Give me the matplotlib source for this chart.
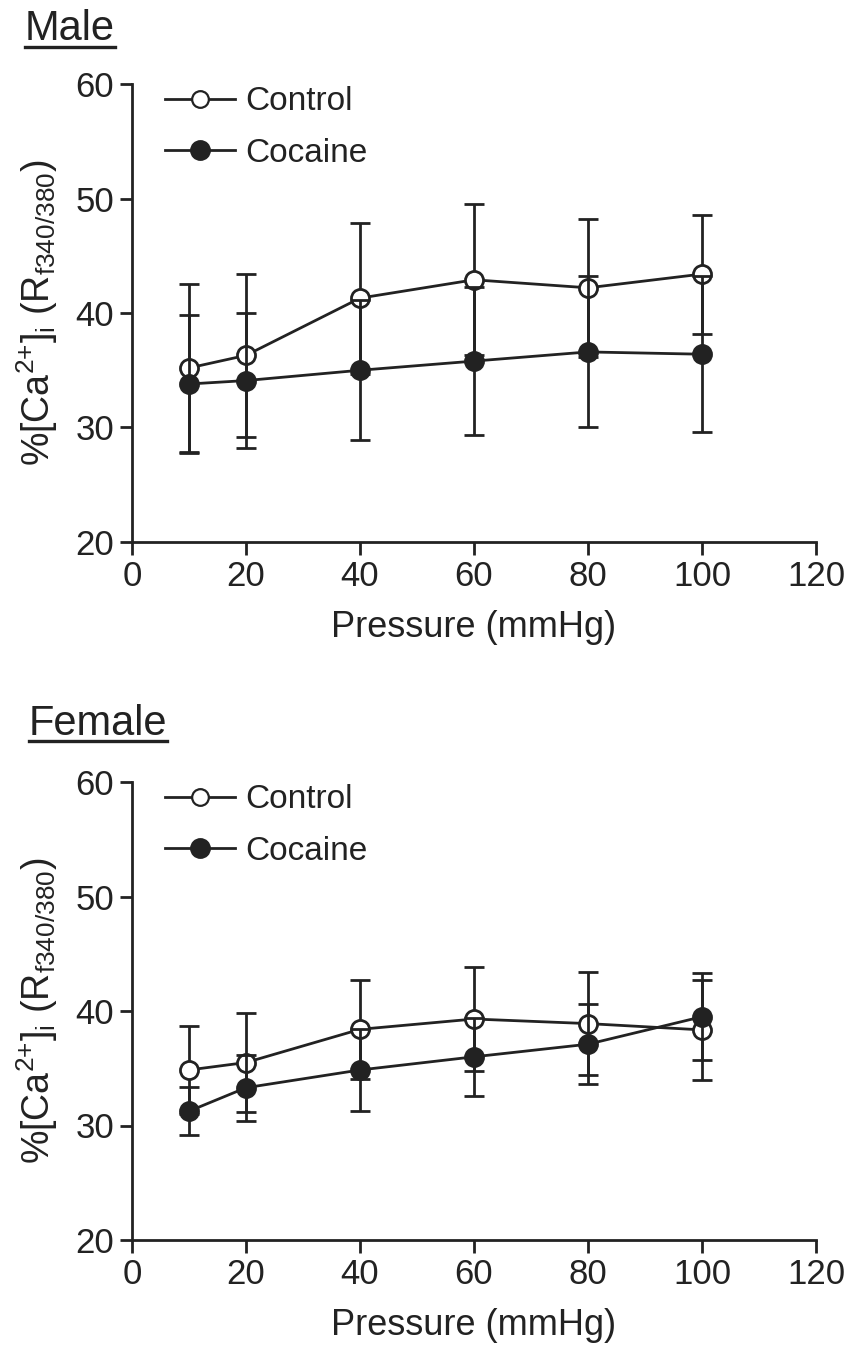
import matplotlib
matplotlib.use("Agg")
import matplotlib.pyplot as plt
from matplotlib.lines import Line2D

plt.rcParams['font.family'] = ['Liberation Sans', 'DejaVu Sans']
plt.rcParams['mathtext.fontset'] = 'custom'
plt.rcParams['mathtext.rm'] = 'Liberation Sans'
plt.rcParams['mathtext.it'] = 'Liberation Sans'
plt.rcParams['mathtext.default'] = 'regular'

pressure = [10, 20, 40, 60, 80, 100]

male_control = [35.2, 36.3, 41.3, 42.9, 42.2, 43.4]
male_control_sem = [7.3, 7.1, 6.6, 6.6, 6.0, 5.2]
male_cocaine = [33.8, 34.1, 35.0, 35.8, 36.6, 36.4]
male_cocaine_sem = [6.0, 5.9, 6.1, 6.45, 6.6, 6.8]

female_control = [34.85, 35.5, 38.4, 39.3, 38.9, 38.35]
female_control_sem = [3.85, 4.35, 4.3, 4.55, 4.5, 4.4]
female_cocaine = [31.25, 33.3, 34.85, 36.0, 37.1, 39.5]
female_cocaine_sem = [2.1, 2.9, 3.55, 3.4, 3.5, 3.8]

panels = [
    ("Male", male_control, male_control_sem, male_cocaine, male_cocaine_sem),
    ("Female", female_control, female_control_sem, female_cocaine, female_cocaine_sem),
]

xticks = [0, 20, 40, 60, 80, 100, 120]
yticks = [20, 30, 40, 50, 60]

W, H = 850, 1347
fig = plt.figure(figsize=(W / 100, H / 100), dpi=100)
col = '#222222'

axes_px = [(132, 84, 816, 542), (132, 782, 816, 1240)]
title_px = [(25, 40), (29, 735)]

for (title, c, cs, k, ks), (l, t, r, b), (tx, ty) in zip(panels, axes_px, title_px):
    ax = fig.add_axes([l / W, 1 - b / H, (r - l) / W, (b - t) / H])
    ax.errorbar(pressure, c, yerr=cs, color=col, lw=2, marker='o', ms=13,
                mfc='white', mec=col, mew=2, capsize=7, capthick=2,
                elinewidth=2, zorder=3)
    ax.errorbar(pressure, k, yerr=ks, color=col, lw=2, marker='o', ms=13,
                mfc=col, mec=col, mew=2, capsize=7, capthick=2,
                elinewidth=2, zorder=4)
    ax.set_xlim(0, 120)
    ax.set_ylim(20, 60)
    ax.set_xticks(xticks)
    ax.set_yticks(yticks)
    for s in ['top', 'right']:
        ax.spines[s].set_visible(False)
    for s in ['left', 'bottom']:
        ax.spines[s].set_linewidth(2)
        ax.spines[s].set_color(col)
    ax.tick_params(direction='out', length=9, width=2, colors=col,
                   labelsize=25, pad=4)
    ax.set_xlabel('Pressure (mmHg)', fontsize=26, color=col, labelpad=12)
    ax.set_ylabel(r'%[Ca$^{2{+}}$]$_{i}$ (R$_{f340/380}$)', fontsize=27,
                  color=col)
    ax.yaxis.set_label_coords(-0.105, 0.5)
    handles = [
        Line2D([], [], color=col, lw=2, marker='o', ms=12, mfc='white',
               mec=col, mew=1.6),
        Line2D([], [], color=col, lw=2, marker='o', ms=13, mfc=col,
               mec=col, mew=2),
    ]
    leg = ax.legend(handles, ['Control', 'Cocaine'], loc='upper left',
                    bbox_to_anchor=(0.048, 0.995), frameon=False,
                    fontsize=24, handlelength=2.1, handletextpad=0.3,
                    labelspacing=0.62, borderpad=0, borderaxespad=0,
                    numpoints=1)
    for txt in leg.get_texts():
        txt.set_color(col)
    fig.text(tx / W, 1 - ty / H, title, fontsize=30, color=col,
             ha='left', va='baseline')
    tw = {'Male': 90, 'Female': 138}[title]
    fig.add_artist(Line2D([tx / W, (tx + tw) / W],
                          [1 - (ty + 6.5) / H, 1 - (ty + 6.5) / H],
                          color=col, lw=2.4))

fig.savefig('out.png', dpi=100)
